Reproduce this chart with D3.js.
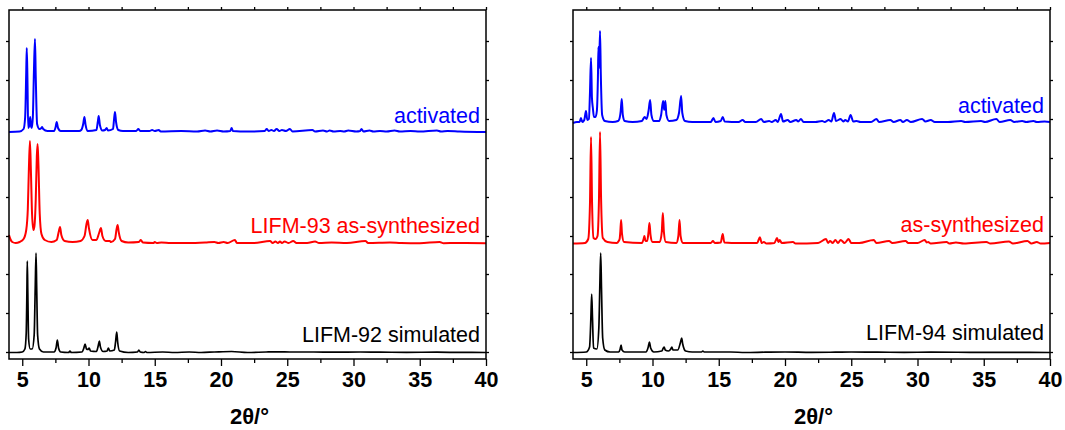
<!DOCTYPE html>
<html><head><meta charset="utf-8">
<script src="https://cdn.jsdelivr.net/npm/d3@7"></script>
<style>
html,body{margin:0;padding:0;background:#fff;}
svg{display:block;}
</style></head>
<body>
<svg id="chart" width="1065" height="430"></svg>
<script>
// ---- data (2θ in degrees, intensity in arbitrary units above each trace's own baseline) ----
const xTicksMajor = [5, 10, 15, 20, 25, 30, 35, 40];
const xTicksMinor = [7.5, 12.5, 17.5, 22.5, 27.5, 32.5, 37.5];
const yTicks = [-1, 38, 77, 115, 154, 193, 232, 271, 310];

const leftNames = ["LIFM-92 simulated", "LIFM-93 as-synthesized", "activated"];
const rightNames = ["LIFM-94 simulated", "as-synthesized", "activated"];
const traceColors = ["#000000", "#ff0000", "#0000ff"];
const leftOffsets = [-2, 107, 219];
const rightOffsets = [-2, 107, 228];

const leftSimulated = [[4.0,0.5],[4.6,0.5],[5.0,1],[5.2,4],[5.3,20],[5.35,60],[5.38,92],[5.42,60],[5.48,14],[5.6,4],[5.75,4],[5.9,18],[5.98,65],[6.04,100],[6.09,65],[6.16,18],[6.3,4],[6.6,1],[7.4,1],[7.55,5],[7.65,13],[7.74,5],[7.9,1],[8.5,0.5],[8.6,2],[8.7,0.5],[9.5,1],[9.65,5],[9.74,9],[9.85,4],[9.95,3.5],[10.05,5],[10.15,2],[10.6,1.5],[10.73,7],[10.82,12],[10.9,6],[11.1,1.5],[11.4,2],[11.5,5],[11.6,2],[11.95,3],[12.05,12],[12.13,21],[12.2,11],[12.35,2],[13.0,0.5],[13.7,1],[13.8,3],[13.9,1],[14.2,0.5],[14.3,1.5],[14.4,0.5],[15.6,1],[16.5,0.5],[17.6,1],[18.5,0.5],[19.5,1],[20.8,1.5],[22,0.5],[23.4,1],[24.4,1.2],[25.2,1],[27.0,1],[28.5,0.8],[30.5,1],[32,0.8],[34,0.7],[36.3,0.8],[38,0.6],[40,0.5]];

const leftAsSynth = [[4.0,9],[4.1,5],[4.25,2],[4.5,1],[4.8,2],[5.1,5],[5.3,14],[5.42,35],[5.5,75],[5.58,103],[5.65,75],[5.74,30],[5.84,14],[5.92,18],[6.02,45],[6.1,88],[6.16,100],[6.22,80],[6.32,30],[6.45,10],[6.7,4],[7.2,2],[7.6,4],[7.75,12],[7.85,17],[7.95,9],[8.2,3],[8.8,2],[9.4,3],[9.7,8],[9.85,20],[9.94,24],[10.03,16],[10.3,4],[10.6,4],[10.8,11],[10.94,16],[11.05,8],[11.3,3],[11.6,3],[11.7,2],[12.0,5],[12.12,15],[12.2,19],[12.28,12],[12.5,3],[13.0,1.5],[13.8,2],[13.95,4],[14.1,1.5],[14.9,1],[15.0,2],[15.15,1],[15.5,1.5],[16.2,1],[17.5,1],[18.8,1.5],[19.5,2],[19.8,1],[20.2,2],[20.5,1],[21.05,4],[21.2,1],[22.5,1],[23.7,3],[23.9,1],[24.1,2.5],[24.3,1],[24.45,2.5],[24.6,1],[24.8,2.5],[25.1,1],[25.45,3],[25.7,1],[26.5,1],[27.1,2.5],[27.4,1],[28.35,1.5],[29.5,1],[30.9,3],[31.1,1],[32.75,1.5],[33.6,1],[35,0.8],[36.5,2],[36.8,0.8],[37.8,1],[40,0.8]];

const leftActivated = [[4.0,0],[4.8,0.5],[5.1,3],[5.22,15],[5.3,60],[5.34,84],[5.39,55],[5.45,4],[5.52,6],[5.6,15],[5.66,6],[5.72,4],[5.8,15],[5.88,60],[5.96,93],[6.02,55],[6.12,8],[6.3,3],[6.45,4],[6.5,5],[6.58,3],[6.9,1],[7.4,1],[7.52,5],[7.6,10],[7.7,4],[7.9,1],[9.3,1],[9.45,2],[9.6,8],[9.69,15],[9.78,7],[9.95,1],[10.6,2],[10.7,10],[10.77,16],[10.86,7],[11.05,1.5],[11.25,2],[11.37,4],[11.47,1.5],[11.85,3],[11.93,13],[12.0,20],[12.08,10],[12.25,2],[12.6,1],[13.6,1],[13.76,3],[13.9,1],[14.6,1],[14.8,2],[15.0,1],[15.3,2],[15.45,0.5],[17.0,1],[18.2,0.5],[18.8,1.5],[19.2,0.5],[19.7,1.5],[20.2,0.5],[20.7,1],[20.8,4],[20.9,1],[22,0.5],[23.3,1],[23.45,3],[23.6,1],[23.8,2],[24.0,1],[24.2,3],[24.4,1],[24.6,2],[24.9,1],[25.2,3],[25.4,0.5],[26.9,2],[27.1,0.5],[27.7,1.5],[28.0,0.5],[28.2,1.5],[28.5,0.5],[29.0,1],[29.3,0.5],[29.6,1.5],[30.2,0.5],[30.5,1],[30.6,3],[30.75,0.5],[31.2,1.5],[31.5,0.5],[32.0,1],[32.5,0.5],[33.1,1.5],[33.5,0.5],[34.3,1],[35,0.5],[36.3,1.5],[36.6,0.5],[37.1,1],[38,0.5],[40,0]];

const rightSimulated = [[4,0.5],[5.0,1],[5.25,6],[5.35,35],[5.41,59],[5.47,35],[5.55,5],[5.8,4],[5.95,25],[6.03,70],[6.09,100],[6.15,65],[6.24,15],[6.4,3],[6.8,1],[7.45,1],[7.56,4],[7.63,8],[7.7,3],[7.9,1],[9.5,1],[9.68,6],[9.77,11],[9.86,5],[10.1,1],[10.7,2],[10.82,5],[10.88,6],[10.96,3],[11.2,2],[11.38,4],[11.46,6],[11.54,3],[11.9,3],[12.1,10],[12.2,15],[12.28,9],[12.5,2],[13.0,1],[13.7,1],[13.8,2],[13.9,1],[15.9,1],[17,0.5],[18.5,0.8],[20,1],[22,0.6],[23.8,0.8],[25,1],[27,0.8],[29,0.7],[31,0.8],[34,0.7],[37,0.6],[40,0.5]];

const rightAsSynth = [[4,0.5],[4.9,1],[5.15,5],[5.28,40],[5.36,107],[5.44,40],[5.55,6],[5.7,5],[5.85,8],[5.96,45],[6.04,112],[6.12,45],[6.25,6],[6.6,2],[7.3,1],[7.45,3],[7.52,5],[7.57,12],[7.63,24],[7.7,10],[7.85,2],[9.2,1],[9.33,5],[9.39,8],[9.47,3],[9.6,3],[9.7,12],[9.77,21],[9.85,9],[10.0,2],[10.55,2],[10.7,12],[10.78,31],[10.86,12],[11.0,2],[11.8,1],[11.95,8],[12.04,24],[12.12,8],[12.3,1],[14.4,1],[14.56,3],[14.7,1],[15.15,1.5],[15.3,10],[15.42,1.5],[16.5,1],[17.9,1],[18.1,6.7],[18.25,1],[18.4,2],[18.6,0.5],[19.2,1],[19.4,6],[19.5,2],[19.6,4],[19.75,1],[20.6,2],[20.8,0.5],[22.5,1],[23.1,5],[23.25,1],[23.4,3],[23.6,1],[23.8,4],[24.0,1],[24.2,4],[24.5,1],[24.8,5],[25.0,1],[25.6,1],[26.7,4],[26.9,1],[27.85,3],[28.1,1],[29.1,3],[29.3,1],[30.0,1],[30.55,4],[30.7,1.5],[30.8,2],[31.0,0.5],[32.2,2],[32.4,0.5],[32.9,1.5],[33.5,0.5],[35.2,2],[35.5,0.5],[36.9,2.5],[37.2,0.5],[38.3,3],[38.6,0.5],[39.0,2],[39.3,0.5],[40,1]];

const rightActivated = [[4,0],[4.3,1],[4.5,1],[4.6,5],[4.7,1],[4.85,3],[4.98,12],[5.08,3],[5.2,4],[5.28,30],[5.36,65],[5.43,25],[5.5,15],[5.58,6],[5.7,6],[5.8,12],[5.88,45],[5.92,76],[5.97,55],[6.04,92],[6.1,48],[6.2,8],[6.4,2],[7.0,1],[7.4,2],[7.5,4],[7.6,12],[7.68,24],[7.76,8],[7.9,2],[8.5,1],[9.2,2],[9.4,6],[9.55,4],[9.7,12],[9.82,23],[9.92,8],[10.1,2],[10.5,2],[10.65,8],[10.8,22],[10.88,13],[10.97,22],[11.05,8],[11.25,2],[11.8,3],[12.0,10],[12.16,27],[12.25,10],[12.45,2],[13,1],[14.4,1],[14.6,5],[14.75,1],[15.15,2],[15.3,6],[15.45,1.5],[16.5,1],[16.8,3],[17.0,1],[17.8,1],[18.2,4],[18.4,1],[18.8,2],[19.0,1],[19.3,3],[19.45,1],[19.7,9],[19.85,1.5],[20.2,3],[20.4,1],[20.85,3],[21.0,1.5],[21.2,4],[21.4,1],[22.3,1],[22.8,2],[23.0,1],[23.3,3],[23.5,1.5],[23.7,10],[23.85,2],[24.2,4],[24.4,1.5],[24.55,3],[24.75,1.5],[24.95,8],[25.15,1.5],[25.4,2],[25.7,1],[26.5,1],[26.9,4],[27.1,1],[27.95,3],[28.2,1],[28.7,3],[28.9,1],[29.2,3],[29.5,1],[30.35,4],[30.6,1.5],[31.0,3],[31.3,1],[32.3,1],[33.3,2],[33.6,1],[34.8,2],[35.1,1],[35.95,4],[36.2,1],[37.0,3],[37.3,1],[37.9,2],[38.2,1],[38.75,2],[39.0,1],[39.6,1.5],[40,1]];

const xLabel = "2θ/°";

// ---- drawing ----
const svg = d3.select("#chart");
const FONT = "Arial, 'Liberation Sans', Helvetica, sans-serif";

const panels = [
  {left: 9, right: 486, traces: [leftSimulated, leftAsSynth, leftActivated], names: leftNames, offsets: leftOffsets,
   labelY: [342, 233, 123]},
  {left: 573, right: 1050, traces: [rightSimulated, rightAsSynth, rightActivated], names: rightNames, offsets: rightOffsets,
   labelY: [340, 232, 113]}
];
const plotTop = 10, plotBottom = 359;

panels.forEach(p => {
  const x = d3.scaleLinear().domain([4, 40]).range([p.left, p.right]);
  const y = d3.scaleLinear().domain([-8, 341]).range([plotBottom, plotTop]);
  const g = svg.append("g");

  // traces
  p.traces.forEach((tr, i) => {
    const line = d3.line()
      .x(d => x(d[0]))
      .y(d => y(d[1] + p.offsets[i]))
      .curve(d3.curveMonotoneX);
    g.append("path").datum(tr)
      .attr("d", line)
      .attr("fill", "none")
      .attr("stroke", traceColors[i])
      .attr("stroke-width", i === 0 ? 1.7 : 2.0)
      .attr("stroke-linejoin", "round");
  });

  // labels
  p.names.forEach((n, i) => {
    g.append("text")
      .attr("x", p.right - 6)
      .attr("y", p.labelY[i])
      .attr("text-anchor", "end")
      .attr("font-family", FONT)
      .attr("font-size", 21.5)
      .attr("fill", traceColors[i])
      .text(n);
  });

  // axes
  const xb = d3.axisBottom(x).tickValues(xTicksMajor).tickSize(7).tickPadding(6).tickFormat(d3.format("d"));
  const xbMinor = d3.axisBottom(x).tickValues(xTicksMinor).tickSize(4).tickFormat("");
  const xt = d3.axisTop(x).tickValues(xTicksMajor.concat(xTicksMinor)).tickSize(3).tickFormat("");
  const yl = d3.axisLeft(y).tickValues(yTicks).tickSize(3).tickFormat("");
  const yr = d3.axisRight(y).tickValues(yTicks).tickSize(3).tickFormat("");

  const gb = g.append("g").attr("transform", `translate(0,${plotBottom})`).call(xb);
  g.append("g").attr("transform", `translate(0,${plotBottom})`).call(xbMinor);
  g.append("g").attr("transform", `translate(0,${plotTop})`).call(xt);
  g.append("g").attr("transform", `translate(${p.left},0)`).call(yl);
  g.append("g").attr("transform", `translate(${p.right},0)`).call(yr);

  g.selectAll(".domain").remove();
  g.selectAll(".tick line").attr("stroke", "#000").attr("stroke-width", 1.3);
  gb.selectAll(".tick text")
    .attr("font-family", FONT).attr("font-size", 21.5).attr("font-weight", "bold").attr("fill", "#000");

  // frame
  g.append("rect")
    .attr("x", p.left).attr("y", plotTop)
    .attr("width", p.right - p.left).attr("height", plotBottom - plotTop)
    .attr("fill", "none").attr("stroke", "#000").attr("stroke-width", 1.5);

  // x label
  g.append("text")
    .attr("x", (p.left + p.right) / 2 + 2)
    .attr("y", 424)
    .attr("text-anchor", "middle")
    .attr("font-family", FONT)
    .attr("font-size", 22)
    .attr("font-weight", "bold")
    .text(xLabel);
});
</script>
</body></html>
